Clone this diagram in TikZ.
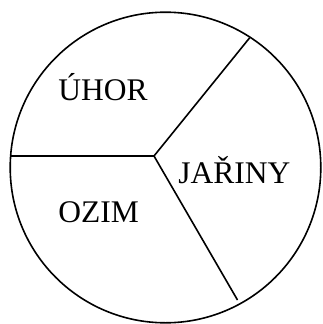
\documentclass[tikz,border=0pt]{standalone}
\usepackage{fontspec}
\setmainfont{Liberation Serif}
\begin{document}
\begin{tikzpicture}[x=1pt,y=-1pt,line width=1.6pt,
  lbl/.style={anchor=base west,inner sep=0pt,font=\fontsize{31.5}{38}\selectfont}]
\useasboundingbox (0,0) rectangle (322,324);
\coordinate (c) at (165.5,167.5);
\draw (c) circle (155.3);
\coordinate (m) at (154,156);
\coordinate (l) at (10.4,156);
\coordinate (u) at (249.5,38);
\coordinate (d) at (237.5,300);
\draw (l) -- (m) -- (u);
\draw (m) -- (d);
\node[lbl] (uhor) at (57.5,100) {ÚHOR};
\node[lbl] (jar) at (177.5,183.5) {JAŘINY};
\node[lbl] (ozim) at (57.5,222) {OZIM};
\end{tikzpicture}
\end{document}
